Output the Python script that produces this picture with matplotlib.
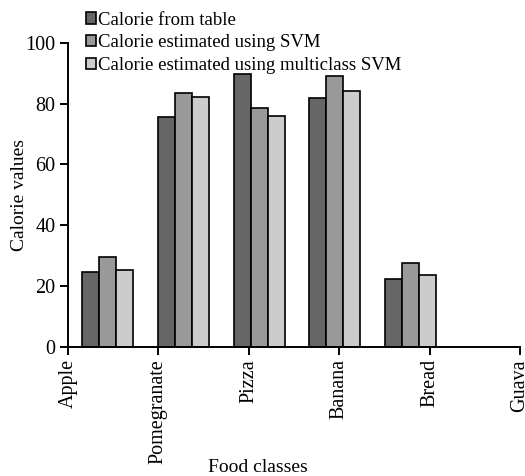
import matplotlib
matplotlib.use("Agg")
import matplotlib.pyplot as plt
import numpy as np

plt.rcParams.update({"font.family": ["Liberation Serif", "DejaVu Serif"], "font.size": 14})

foods = ["Apple", "Pomegranate", "Pizza", "Banana", "Bread"]
tick_labels = ["Apple", "Pomegranate", "Pizza", "Banana", "Bread", "Guava"]
table = [24.4, 75.6, 89.6, 81.9, 22.2]
svm = [29.6, 83.6, 78.6, 89.0, 27.5]
multi = [25.2, 82.1, 75.8, 84.1, 23.6]
series = [("Calorie from table", table, "#666666"),
          ("Calorie estimated using SVM", svm, "#999999"),
          ("Calorie estimated using multiclass SVM", multi, "#cccccc")]

fig = plt.figure(figsize=(5.25, 4.76), dpi=100)
ax = fig.add_axes([0.1295, 0.272, 0.861, 0.638])

x = np.arange(len(foods))
w = 0.224
for j, (lab, vals, col) in enumerate(series):
    ax.bar(x + (j - 1) * w, vals, w, color=col, edgecolor="black", lw=1.2, label=lab)

# group spacing differs from tick spacing in the original
ax.set_xlim(-0.521, 5.442)
ax.set_xticks(-0.521 + 1.1926 * np.arange(len(tick_labels)))
ax.set_xticklabels(tick_labels, rotation=90)
ax.set_ylim(0, 100)
ax.set_yticks([0, 20, 40, 60, 80, 100])
for s in ("top", "right"):
    ax.spines[s].set_visible(False)
for s in ("left", "bottom"):
    ax.spines[s].set_linewidth(1.4)
ax.tick_params(direction="out", length=6, width=1.4, labelsize=14.5, pad=3)
ax.set_ylabel("Calorie values", fontsize=14)
ax.yaxis.set_label_coords(-0.088, 0.5)
ax.set_xlabel("Food classes", fontsize=14)
ax.xaxis.set_label_coords(0.42, -0.37)

fig.legend(loc="upper left", bbox_to_anchor=(0.145, 0.995), frameon=False, fontsize=13.5,
           handlelength=0.55, handleheight=0.55, handletextpad=0.12, labelspacing=0.3,
           borderpad=0)

fig.savefig("out.png", dpi=100)
